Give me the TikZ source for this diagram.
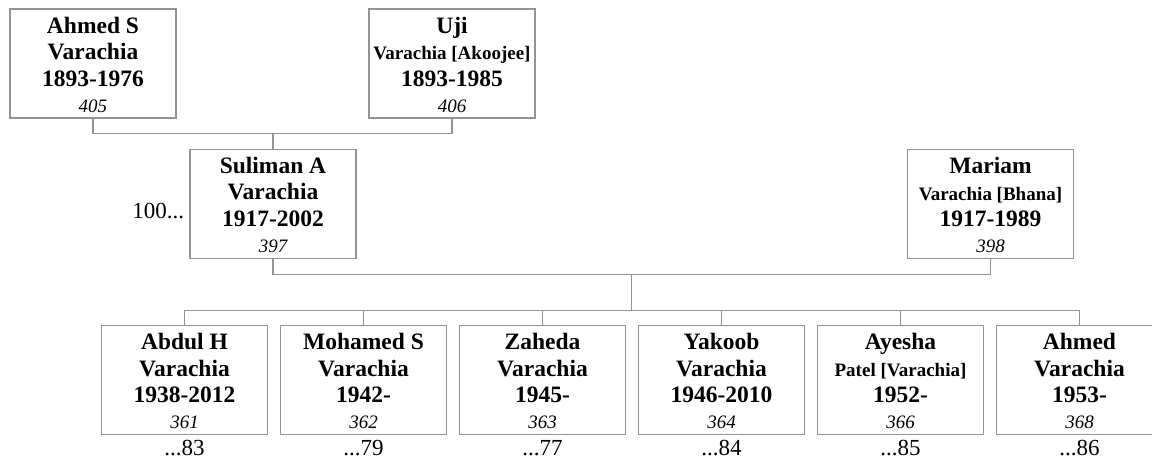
\documentclass[tikz,border=0pt]{standalone}
\usepackage{fontspec}
\setmainfont{Liberation Serif}
\usetikzlibrary{calc}
\definecolor{linegray}{gray}{0.58}
\newcommand\pcard[4]{\rule{0pt}{19pt}#1\\#2\\#3\\{\normalfont\itshape\fontsize{19}{26.3}\selectfont #4}}
\newcommand\smallline[1]{{\fontsize{19}{26.3}\selectfont #1}}
\tikzset{
  person/.style={draw=linegray, line width=1.2pt, minimum width=166pt, minimum height=109pt,
    inner sep=0pt, align=center, font=\fontsize{23.5}{26.3}\selectfont\bfseries},
  conn/.style={draw=linegray, line width=1.2pt},
  refnum/.style={inner sep=0pt, font=\fontsize{23}{26}\selectfont}
}
\begin{document}
\begin{tikzpicture}[x=1pt,y=-1pt]
\useasboundingbox (0,0) rectangle (1152,462);
% grandparents
\node[person] (ahmeds) at (93,63.5) {\pcard{Ahmed S}{Varachia}{1893-1976}{405}};
\node[person] (uji) at (452,63.5) {\pcard{Uji}{\smallline{Varachia [Akoojee]}}{1893-1985}{406}};
% parents
\node[person] (suliman) at (273,203.7) {\pcard{Suliman A}{Varachia}{1917-2002}{397}};
\node[person] (mariam) at (990.5,204) {\pcard{Mariam}{\smallline{Varachia [Bhana]}}{1917-1989}{398}};
\node[refnum, anchor=base east] (ref100) at ([xshift=-5pt,yshift=-14.5pt]suliman.west) {100...};
% children
\node[person] (c1) at (184.5,380) {\pcard{Abdul H}{Varachia}{1938-2012}{361}};
\node[person] (c2) at (363.5,380) {\pcard{Mohamed S}{Varachia}{1942-}{362}};
\node[person] (c3) at (542.5,380) {\pcard{Zaheda}{Varachia}{1945-}{363}};
\node[person] (c4) at (721.5,380) {\pcard{Yakoob}{Varachia}{1946-2010}{364}};
\node[person] (c5) at (900.5,380) {\pcard{Ayesha}{\smallline{Patel [Varachia]}}{1952-}{366}};
\node[person] (c6) at (1079.5,380) {\pcard{Ahmed}{Varachia}{1953-}{368}};
\foreach \c/\t in {c1/83,c2/79,c3/77,c4/84,c5/85,c6/86}{
  \node[refnum, anchor=base] (r\c) at ([yshift=-20pt]\c.south) {...\t};
}
% connectors: grandparents to Suliman
\draw[conn] (ahmeds.south) -- ++(0,15) coordinate (tb) -| (uji.south);
\draw[conn] (suliman.north) -- (suliman.north |- tb);
% parents to children
\draw[conn] (suliman.south) -- ++(0,16) coordinate (mb) -| (mariam.south);
\coordinate (drop) at ($(mb)!0.5!(mb -| mariam.south)$);
\draw[conn] (drop) -- ++(0,36) coordinate (cb);
\draw[conn] (c1.north) -- (c1.north |- cb) -- (c6.north |- cb) -- (c6.north);
\foreach \c in {c2,c3,c4,c5}{
  \draw[conn] (\c.north) -- (\c.north |- cb);
}
\end{tikzpicture}
\end{document}
